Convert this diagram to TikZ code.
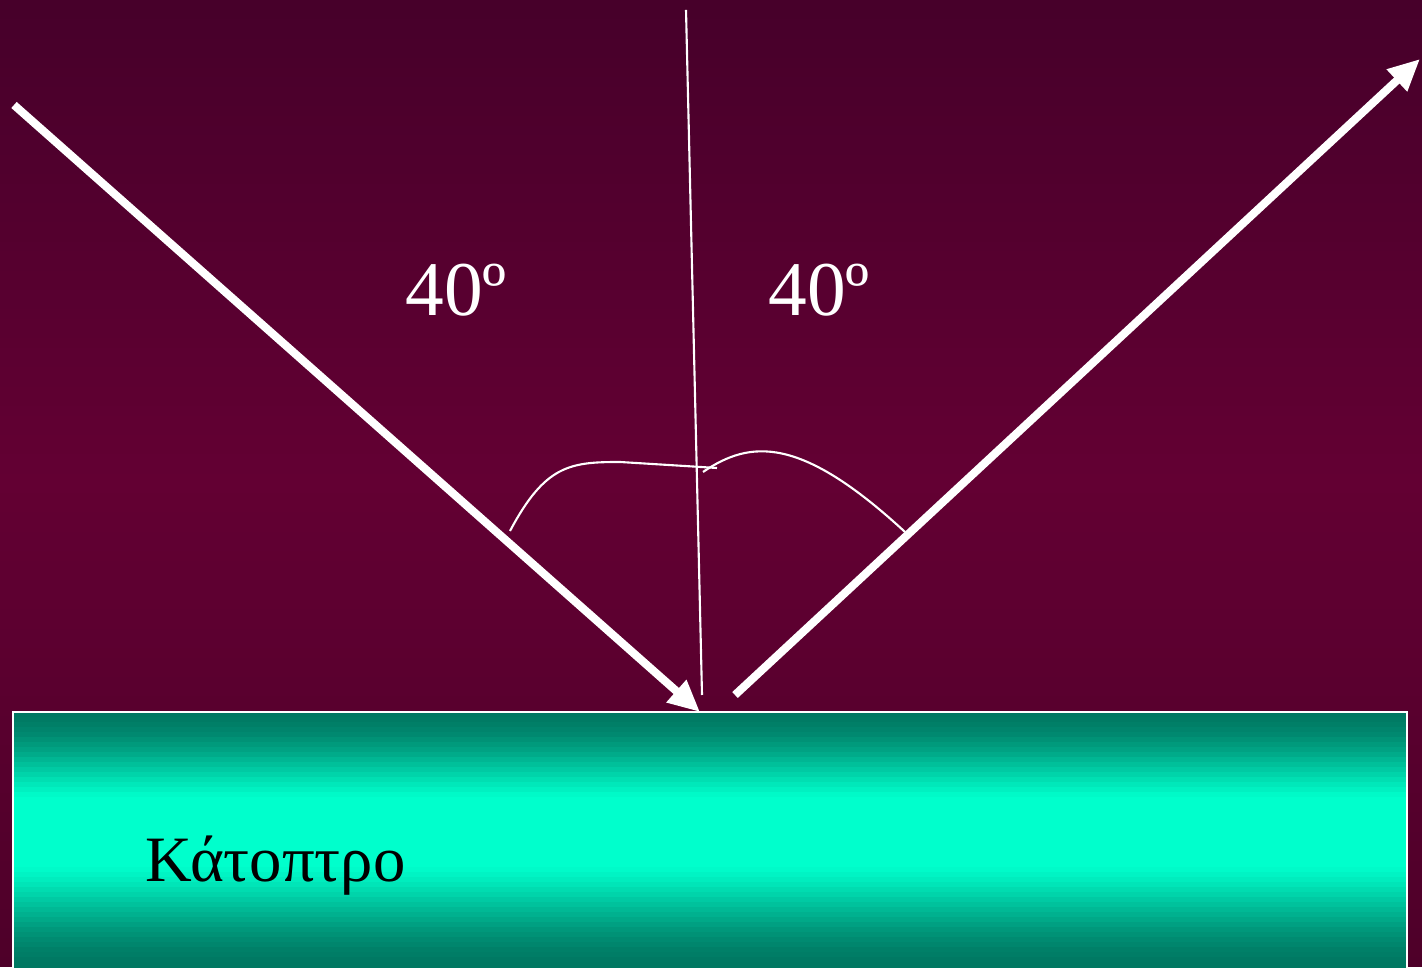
\documentclass[tikz,border=0pt]{standalone}
\usepackage{fontspec}
\setmainfont{Liberation Serif}
\usepackage{xcolor}
\usetikzlibrary{arrows.meta, positioning}

\definecolor{bgtop}{HTML}{46002A}
\definecolor{bgmid}{HTML}{630033}
\definecolor{bgbot}{HTML}{4E0029}
\definecolor{mirrordark}{HTML}{007862}
\definecolor{mirrorlight}{HTML}{00FFCC}

\begin{document}
\begin{tikzpicture}[
  x=0.01cm, y=0.01cm,
  ray/.style={draw=white, line width=2.3pt, -{Triangle[length=9pt, width=8pt]}},
  normalline/.style={draw=white, line width=0.6pt},
  anglearc/.style={draw=white, line width=0.6pt},
  anglelabel/.style={text=white, font=\fontsize{22}{26}\selectfont, inner sep=0pt},
  mirrorlabel/.style={text=black, font=\fontsize{18.4}{22}\selectfont, inner sep=0pt}
]
\useasboundingbox (0,0) rectangle (1422,967);
% background, drawn as thin bands
\foreach \i in {0,...,99} {
  \pgfmathsetmacro{\ylo}{\i*9.67}
  \pgfmathsetmacro{\yhi}{\ylo+10.5}
  \ifnum\i<50
    \pgfmathtruncatemacro{\p}{\i*2}
    \fill[bgmid!\p!bgbot] (0,\ylo) rectangle (1422,\yhi);
  \else
    \pgfmathtruncatemacro{\p}{(\i-50)*2}
    \fill[bgtop!\p!bgmid] (0,\ylo) rectangle (1422,\yhi);
  \fi
}
% mirror bands
\foreach \i in {0,...,51} {
  \pgfmathsetmacro{\ylo}{\i*5-5}
  \pgfmathsetmacro{\yhi}{\ylo+5.6}
  \pgfmathsetmacro{\t}{min(1, min((\ylo+5)/102, (255-\ylo)/88))}
  \pgfmathtruncatemacro{\p}{100*\t*(2-\t)*\t}
  \fill[mirrorlight!\p!mirrordark] (13,\ylo) rectangle (1407,\yhi);
}
\draw[white, line width=0.6pt] (13,-5) rectangle (1407,255);
\node (mirror) [mirrorlabel, anchor=base west] at (145,85) {Κάτοπτρο};

% points
\coordinate (inStart) at (14,862);
\coordinate (hit) at (700,255);
\coordinate (outStart) at (735,272);
\coordinate (outEnd) at (1420,908);
\coordinate (nTop) at (686,957);
\coordinate (nBot) at (702,272);

% rays and normal
\draw [ray] (inStart) -- (hit);
\draw [ray] (outStart) -- (outEnd);
\draw [normalline] (nTop) -- (nBot);

% angle marks
\draw [anglearc] (510,436) .. controls (545,502) and (570,505) .. (620,505) -- (717,499);
\draw [anglearc] (703,495) .. controls (750,527) and (800,532) .. (905,435);

\node (angleIn) [anglelabel] at (456,677) {40º};
\node (angleOut) [anglelabel] at (819,677) {40º};
\end{tikzpicture}
\end{document}
